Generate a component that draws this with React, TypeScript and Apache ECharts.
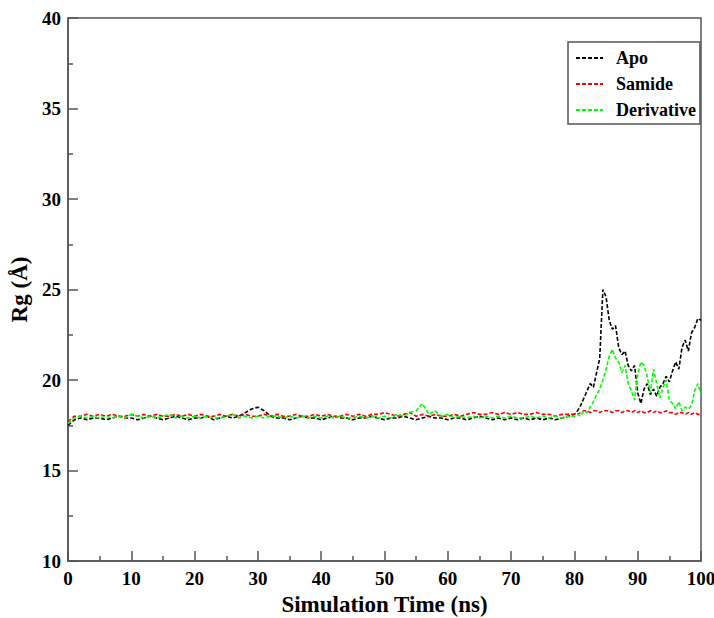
import React, { useEffect, useRef } from "react";
import * as echarts from "echarts";

const times: number[] = [
  0, 1, 2, 3, 4, 5, 6, 7, 8, 9,
  10, 11, 12, 13, 14, 15, 16, 17, 18, 19,
  20, 21, 22, 23, 24, 25, 26, 27, 28, 29,
  30, 31, 32, 33, 34, 35, 36, 37, 38, 39,
  40, 41, 42, 43, 44, 45, 46, 47, 48, 49,
  50, 51, 52, 53, 54, 55, 56, 57, 58, 59,
  60, 61, 62, 63, 64, 65, 66, 67, 68, 69,
  70, 71, 72, 73, 74, 75, 76, 77, 78, 79,
  80, 80.5, 81, 81.5, 82, 82.5, 83, 83.5, 84, 84.5,
  85, 85.5, 86, 86.5, 87, 87.5, 88, 88.5, 89, 89.5,
  90, 90.5, 91, 91.5, 92, 92.5, 93, 93.5, 94, 94.5,
  95, 95.5, 96, 96.5, 97, 97.5, 98, 98.5, 99, 99.5,
  100,
];

const apo: number[] = [
  17.5, 17.8, 17.9, 17.8, 17.9, 17.9, 17.8, 17.9, 18.0, 17.9,
  17.9, 17.8, 17.9, 18.0, 17.9, 17.8, 17.9, 18.0, 17.9, 17.8,
  17.9, 17.9, 18.0, 17.8, 17.9, 18.0, 17.9, 18.0, 18.2, 18.4,
  18.5, 18.3, 18.0, 17.9, 17.9, 17.8, 17.9, 18.0, 17.9, 17.9,
  17.8, 17.9, 18.0, 17.9, 17.9, 17.8, 17.9, 17.9, 18.0, 17.9,
  17.8, 17.9, 17.9, 18.0, 17.9, 17.8, 17.9, 18.0, 17.9, 17.9,
  17.8, 17.9, 17.9, 17.8, 17.9, 18.0, 17.9, 17.8, 17.9, 17.8,
  17.9, 17.8, 17.9, 17.8, 17.9, 17.8, 17.9, 17.8, 17.9, 18.0,
  18.1, 18.3, 18.6, 19.0, 19.4, 19.8, 19.6, 20.4, 21.2, 25.0,
  24.6, 23.3, 22.8, 23.0, 21.8, 21.4, 21.6, 20.8, 20.5, 20.8,
  19.3, 18.7, 19.5, 19.8, 19.2, 19.5, 19.1, 19.6, 19.8, 20.2,
  19.9, 20.5, 21.0, 20.6, 21.8, 22.2, 21.6, 22.6, 22.9, 23.4,
  23.3,
];

const samide: number[] = [
  17.7, 18.0, 18.0, 18.1, 18.0, 18.1, 18.0, 18.1, 18.0, 18.0,
  18.1, 18.0, 18.1, 18.0, 18.1, 18.0, 18.0, 18.1, 18.0, 18.1,
  18.0, 18.1, 18.0, 18.0, 18.1, 18.0, 18.1, 18.0, 18.1, 18.0,
  18.0, 18.1, 18.0, 18.1, 18.0, 18.0, 18.1, 18.0, 18.0, 18.1,
  18.0, 18.1, 18.0, 18.0, 18.1, 18.0, 18.1, 18.0, 18.1, 18.1,
  18.2, 18.1, 18.0, 18.1, 18.2, 18.0, 18.1, 18.0, 18.1, 18.0,
  18.0, 18.1, 18.0, 18.1, 18.2, 18.1, 18.1, 18.2, 18.1, 18.2,
  18.1, 18.2, 18.1, 18.1, 18.2, 18.1, 18.1, 18.0, 18.1, 18.1,
  18.1, 18.1, 18.2, 18.3, 18.3, 18.2, 18.3, 18.3, 18.2, 18.3,
  18.3, 18.3, 18.2, 18.3, 18.3, 18.2, 18.3, 18.3, 18.2, 18.3,
  18.2, 18.3, 18.2, 18.2, 18.3, 18.2, 18.3, 18.2, 18.2, 18.3,
  18.2, 18.2, 18.1, 18.2, 18.2, 18.1, 18.2, 18.1, 18.2, 18.1,
  18.1,
];

const derivative: number[] = [
  17.6, 17.9, 18.0, 17.9, 18.0, 17.9, 18.0, 17.9, 18.0, 17.9,
  18.1, 18.0, 17.9, 18.0, 17.9, 18.0, 18.1, 17.9, 18.0, 17.9,
  18.0, 17.9, 18.0, 17.9, 17.9, 18.0, 18.1, 17.9, 18.0, 17.9,
  18.0, 17.9, 18.0, 18.0, 17.9, 18.0, 17.9, 18.0, 17.9, 18.0,
  17.9, 18.0, 17.9, 18.0, 17.9, 17.9, 18.0, 17.9, 18.0, 17.9,
  18.0, 17.9, 18.1, 18.0, 18.2, 18.3, 18.7, 18.1, 18.3, 18.0,
  18.1, 17.9, 18.0, 17.9, 18.0, 17.9, 18.0, 17.9, 18.0, 17.9,
  18.0, 17.9, 17.9, 18.0, 17.9, 18.0, 17.9, 18.0, 17.9, 18.0,
  18.0, 18.1, 18.0, 18.3, 18.2, 18.5, 18.8, 19.2, 19.5, 20.0,
  20.6, 21.3, 21.7, 21.2, 21.0, 20.4, 20.8, 19.8, 19.4, 18.9,
  20.3, 21.0, 20.8, 20.2, 19.3, 20.6, 19.8, 19.0, 19.6, 20.0,
  18.9, 18.7, 18.4, 18.8, 18.3, 18.5, 18.4, 18.6, 19.4, 19.8,
  19.2,
];

const seriesNames = ["Apo", "Samide", "Derivative"];
const seriesColors = ["#000000", "#ff0000", "#00ff00"];

const pair = (vals: number[]) => times.map((t, i) => [t, vals[i]]);

const FONT = "'Liberation Serif', 'DejaVu Serif', serif";

export default function App() {
  const ref = useRef<HTMLDivElement>(null);
  useEffect(() => {
    document.body.style.margin = "0";
    if (!ref.current) return;
    const chart = echarts.init(ref.current, null, { renderer: "svg" });
    const axisColor = "#555555";
    const labelStyle = {
      fontFamily: FONT,
      fontWeight: "bold" as const,
      fontSize: 19,
      color: "#000",
    };
    const allData = [apo, samide, derivative];
    chart.setOption({
      animation: false,
      backgroundColor: "#ffffff",
      grid: {
        left: 68,
        right: 13,
        top: 18,
        bottom: 57,
        outerBoundsMode: "none",
        containLabel: false,
        show: true,
        borderColor: axisColor,
        borderWidth: 1.5,
        backgroundColor: "transparent",
      },
      legend: {
        orient: "vertical",
        left: 568,
        top: 42,
        padding: [7, 4, 5, 7],
        itemGap: 8,
        itemWidth: 27,
        itemHeight: 10,
        borderColor: axisColor,
        borderWidth: 1.5,
        itemStyle: { opacity: 0 },
        textStyle: {
          fontFamily: FONT,
          fontWeight: "bold",
          fontSize: 18,
          color: "#000",
          padding: [0, 0, 0, 8],
        },
        data: seriesNames,
      },
      xAxis: {
        type: "value",
        min: 0,
        max: 100,
        interval: 10,
        name: "Simulation Time (ns)",
        nameLocation: "middle",
        nameGap: 32,
        nameTextStyle: { ...labelStyle, fontSize: 23 },
        axisLine: { show: true, lineStyle: { color: axisColor, width: 1.5 } },
        axisTick: { show: true, inside: true, length: 10, lineStyle: { color: axisColor, width: 1.5 } },
        minorTick: { show: true, splitNumber: 2, length: 5, lineStyle: { color: axisColor, width: 1.5 } },
        splitLine: { show: false },
        axisLabel: { ...labelStyle, margin: 8, showMaxLabel: true },
      },
      yAxis: {
        type: "value",
        min: 10,
        max: 40,
        interval: 5,
        name: "Rg (Å)",
        nameLocation: "middle",
        nameGap: 36,
        nameTextStyle: { ...labelStyle, fontSize: 23 },
        axisLine: { show: true, lineStyle: { color: axisColor, width: 1.5 } },
        axisTick: { show: true, inside: true, length: 10, lineStyle: { color: axisColor, width: 1.5 } },
        minorTick: { show: true, splitNumber: 2, length: 5, lineStyle: { color: axisColor, width: 1.5 } },
        splitLine: { show: false },
        axisLabel: { ...labelStyle, margin: 7 },
      },
      series: seriesNames.map((name, i) => ({
        name,
        type: "line",
        data: pair(allData[i]),
        showSymbol: false,
        symbol: "none",
        color: seriesColors[i],
        lineStyle: { color: seriesColors[i], width: 1.6, type: [4, 2] },
      })),
    });
    return () => chart.dispose();
  }, []);
  return (
    <div
      ref={ref}
      style={{ position: "absolute", left: 0, top: 0, width: 714, height: 618 }}
    />
  );
}
